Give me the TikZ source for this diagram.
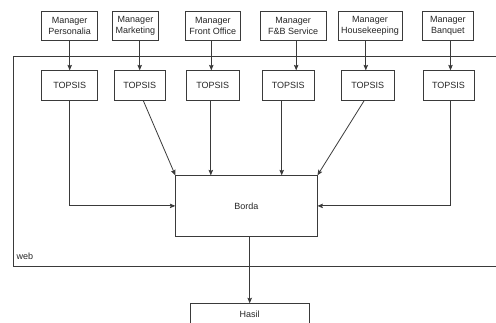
\documentclass[tikz,border=0pt]{standalone}
\usepackage{fontspec}
\setmainfont{Liberation Sans}
\usetikzlibrary{arrows.meta, positioning}
\definecolor{lineGray}{HTML}{3A3A3A}

\tikzset{
  box/.style={rectangle, draw=lineGray, line width=0.8pt, fill=white,
    align=center, inner sep=0pt, font=\fontsize{9}{11}\selectfont, text=black!85},
  mgrbox/.style={box, minimum height=29.7pt},
  topsisbox/.style={box, minimum height=29.3pt},
  arr/.style={draw=lineGray, line width=0.8pt,
    -{Stealth[length=5.5pt, width=4.5pt, inset=1pt]}}
}

\begin{document}
\begin{tikzpicture}[x=1pt, y=-1pt]
    \useasboundingbox (0,0) rectangle (496,323);

    % web frame (right side runs off the page)
    \draw[lineGray, line width=0.8pt] (13.5,56) rectangle (520,266);
    \node[anchor=base west, inner sep=0pt, font=\fontsize{9}{11}\selectfont,
      text=black!85] (weblbl) at (16.5,260) {web};

    % managers
    \node[mgrbox, minimum width=56pt] (m1) at (69.7,25.8) {Manager\\Personalia};
    \node[mgrbox, minimum width=45.6pt] (m2) at (135.5,25.8) {Manager\\Marketing};
    \node[mgrbox, minimum width=54.3pt] (m3) at (212.8,25.8) {Manager\\Front Office};
    \node[mgrbox, minimum width=65.5pt] (m4) at (293.2,25.8) {Manager\\F\&B Service};
    \node[mgrbox, minimum width=64pt] (m5) at (370,25.8) {Manager\\Housekeeping};
    \node[mgrbox, minimum width=50.5pt] (m6) at (447.8,25.8) {Manager\\Banquet};

    % TOPSIS per manager
    \node[topsisbox, minimum width=56pt] (t1) at (69.7,85.4) {TOPSIS};
    \node[topsisbox, minimum width=50.7pt] (t2) at (139.7,85.4) {TOPSIS};
    \node[topsisbox, minimum width=52.3pt] (t3) at (212.8,85.4) {TOPSIS};
    \node[topsisbox, minimum width=51.5pt] (t4) at (288.2,85.4) {TOPSIS};
    \node[topsisbox, minimum width=52.3pt] (t5) at (367.8,85.4) {TOPSIS};
    \node[topsisbox, minimum width=51pt] (t6) at (448.5,85.4) {TOPSIS};

    % Borda and result
    \node[box, minimum width=141.3pt, minimum height=60.3pt] (borda) at (246.4,205.9) {Borda};
    \node[box, minimum width=119.3pt, minimum height=22pt] (hasil) at (249.7,314.7) {Hasil};

    % managers to TOPSIS
    \draw[arr] (m1) -- (t1);
    \draw[arr] (t2 |- m2.south) -- (t2);
    \draw[arr] ([xshift=-1.5pt]t3 |- m3.south) -- ([xshift=-1.5pt]t3.north);
    \draw[arr] ([xshift=3pt]m4.south) -- ([xshift=3pt]m4.south |- t4.north);
    \draw[arr] ([xshift=-2pt]t5 |- m5.south) -- ([xshift=-2pt]t5.north);
    \draw[arr] ([xshift=2pt]t6 |- m6.south) -- ([xshift=2pt]t6.north);

    % TOPSIS to Borda
    \draw[arr] (t1.south) |- (borda.west);
    \draw[arr] ([xshift=3.5pt]t2.south) -- (borda.north west);
    \draw[arr] ([xshift=-2pt]t3.south) -- ([xshift=-2pt]t3.south |- borda.north);
    \draw[arr] ([xshift=-6.5pt]t4.south) -- ([xshift=-6.5pt]t4.south |- borda.north);
    \draw[arr] ([xshift=-3.5pt]t5.south) -- (borda.north east);
    \draw[arr] ([xshift=2pt]t6.south) |- (borda.east);

    % Borda to result
    \draw[arr] (hasil |- borda.south) -- (hasil.north);
\end{tikzpicture}
\end{document}
